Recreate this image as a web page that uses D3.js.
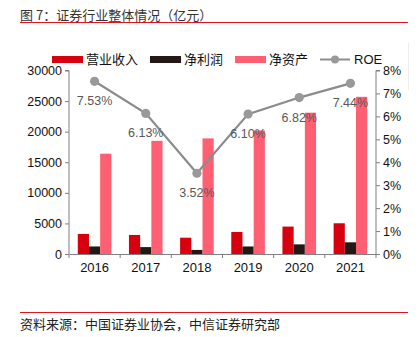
<!DOCTYPE html>
<html><head><meta charset="utf-8">
<script src="https://cdn.jsdelivr.net/npm/d3@7/dist/d3.min.js"></script>
<style>
body{margin:0;background:#fff;}
svg{display:block;font-family:"Liberation Sans",Arial,sans-serif;}
.cjk{font-family:"Noto Sans CJK SC","Liberation Sans",sans-serif;}
</style></head><body>
<svg id="c" width="420" height="337"></svg>
<script>
const years = ["2016","2017","2018","2019","2020","2021"];
const revenue = [3280, 3113, 2663, 3605, 4485, 5024];
const netProfit = [1234, 1130, 666, 1231, 1575, 1911];
const netAssets = [16400, 18500, 18900, 20200, 23100, 25700];
const roe = [7.53, 6.13, 3.52, 6.10, 6.82, 7.44];
const leftTicks = [0,5000,10000,15000,20000,25000,30000];
const rightTicks = [0,1,2,3,4,5,6,7,8];
const seriesNames = ["营业收入","净利润","净资产","ROE"];
const colors = ["#d7000f","#231815","#ff5f73","#8c8c8c"];

const svg = d3.select("#c");
const L = 69, R = 376, T = 70.5, B = 254;
const x = d3.scaleBand().domain(years).range([L,R]);
const yL = d3.scaleLinear().domain([0,30000]).range([B,T]);
const yR = d3.scaleLinear().domain([0,8]).range([B,T]);
const bw = 11.2;

// title
svg.append("text").attr("class","cjk").attr("x",20).attr("y",20).attr("font-size",13).attr("fill","#333")
  .text("图 7：证券行业整体情况（亿元）");
svg.append("line").attr("x1",20).attr("x2",408).attr("y1",22.5).attr("y2",22.5).attr("stroke","#e0141e").attr("stroke-width",1);
svg.append("line").attr("x1",408.5).attr("x2",408.5).attr("y1",43).attr("y2",90).attr("stroke","#eee").attr("stroke-width",1);

// bars
const sets = [revenue, netProfit, netAssets];
sets.forEach((arr,i)=>{
  svg.append("g").selectAll("rect").data(arr).join("rect")
    .attr("x",(d,j)=>x(years[j]) + x.bandwidth()/2 - 1.5*bw + i*bw)
    .attr("width",bw)
    .attr("y",d=>yL(d)).attr("height",d=>B-yL(d))
    .attr("fill",colors[i]);
});

// axes
const axisColor = "#808080";
const gl = svg.append("g").attr("transform",`translate(${L},0)`)
  .call(d3.axisLeft(yL).tickValues(leftTicks).tickSize(4).tickFormat(d3.format("d")));
const gr = svg.append("g").attr("transform",`translate(${R},0)`)
  .call(d3.axisRight(yR).tickValues(rightTicks).tickSize(4).tickFormat(d=>d+"%"));
const gx = svg.append("g").attr("transform",`translate(0,${B})`)
  .call(d3.axisBottom(x).tickSize(0).tickPadding(9));
[gl,gr,gx].forEach(g=>{
  g.selectAll(".domain").attr("stroke",axisColor);
  g.selectAll(".tick line").attr("stroke",axisColor);
  g.selectAll("text").attr("font-size",12.5).attr("fill","#111").attr("font-family","Liberation Sans, Arial, sans-serif");
});
gl.select(".domain").attr("d",`M-4,${T}H0V${B}`);
gr.select(".domain").attr("d",`M4,${T}H0V${B}`);
gx.selectAll("text").attr("font-size",13).attr("dy","0.71em");
// x boundary ticks
const bounds = years.map(y=>x(y)).concat([R]);
svg.append("g").selectAll("line").data(bounds).join("line")
  .attr("x1",d=>d).attr("x2",d=>d).attr("y1",B).attr("y2",B+4)
  .attr("stroke",axisColor);

// ROE line
const line = d3.line().x((d,i)=>x(years[i])+x.bandwidth()/2).y(d=>yR(d));
svg.append("path").datum(roe).attr("d",line).attr("fill","none").attr("stroke",colors[3]).attr("stroke-width",2.2);
svg.append("g").selectAll("circle").data(roe).join("circle")
  .attr("cx",(d,i)=>x(years[i])+x.bandwidth()/2).attr("cy",d=>yR(d)).attr("r",4.6).attr("fill","#999");
svg.append("g").selectAll("text").data(roe).join("text")
  .attr("x",(d,i)=>x(years[i])+x.bandwidth()/2).attr("y",d=>yR(d)+24)
  .attr("text-anchor","middle").attr("font-size",12.5).attr("fill","#595959")
  .text(d=>d.toFixed(2)+"%");

// legend
const lg = svg.append("g");
const legX = [52, 150, 235, 320];
seriesNames.forEach((n,i)=>{
  if(i<3){
    lg.append("rect").attr("x",legX[i]).attr("y",56).attr("width",31).attr("height",7).attr("fill",colors[i]);
  } else {
    lg.append("line").attr("x1",legX[i]).attr("x2",legX[i]+30).attr("y1",59.5).attr("y2",59.5).attr("stroke",colors[3]).attr("stroke-width",2);
    lg.append("circle").attr("cx",legX[i]+15).attr("cy",59.5).attr("r",4).attr("fill","#999");
  }
  lg.append("text").attr("class", i<3 ? "cjk" : null).attr("x",legX[i]+34).attr("y",64)
    .attr("font-size",13).attr("fill","#111").text(n);
});

// source
svg.append("line").attr("x1",20).attr("x2",408).attr("y1",312.5).attr("y2",312.5).attr("stroke","#e0141e").attr("stroke-width",1);
svg.append("text").attr("class","cjk").attr("x",20).attr("y",329).attr("font-size",13).attr("fill","#222")
  .text("资料来源：中国证券业协会，中信证券研究部");
</script></body></html>
